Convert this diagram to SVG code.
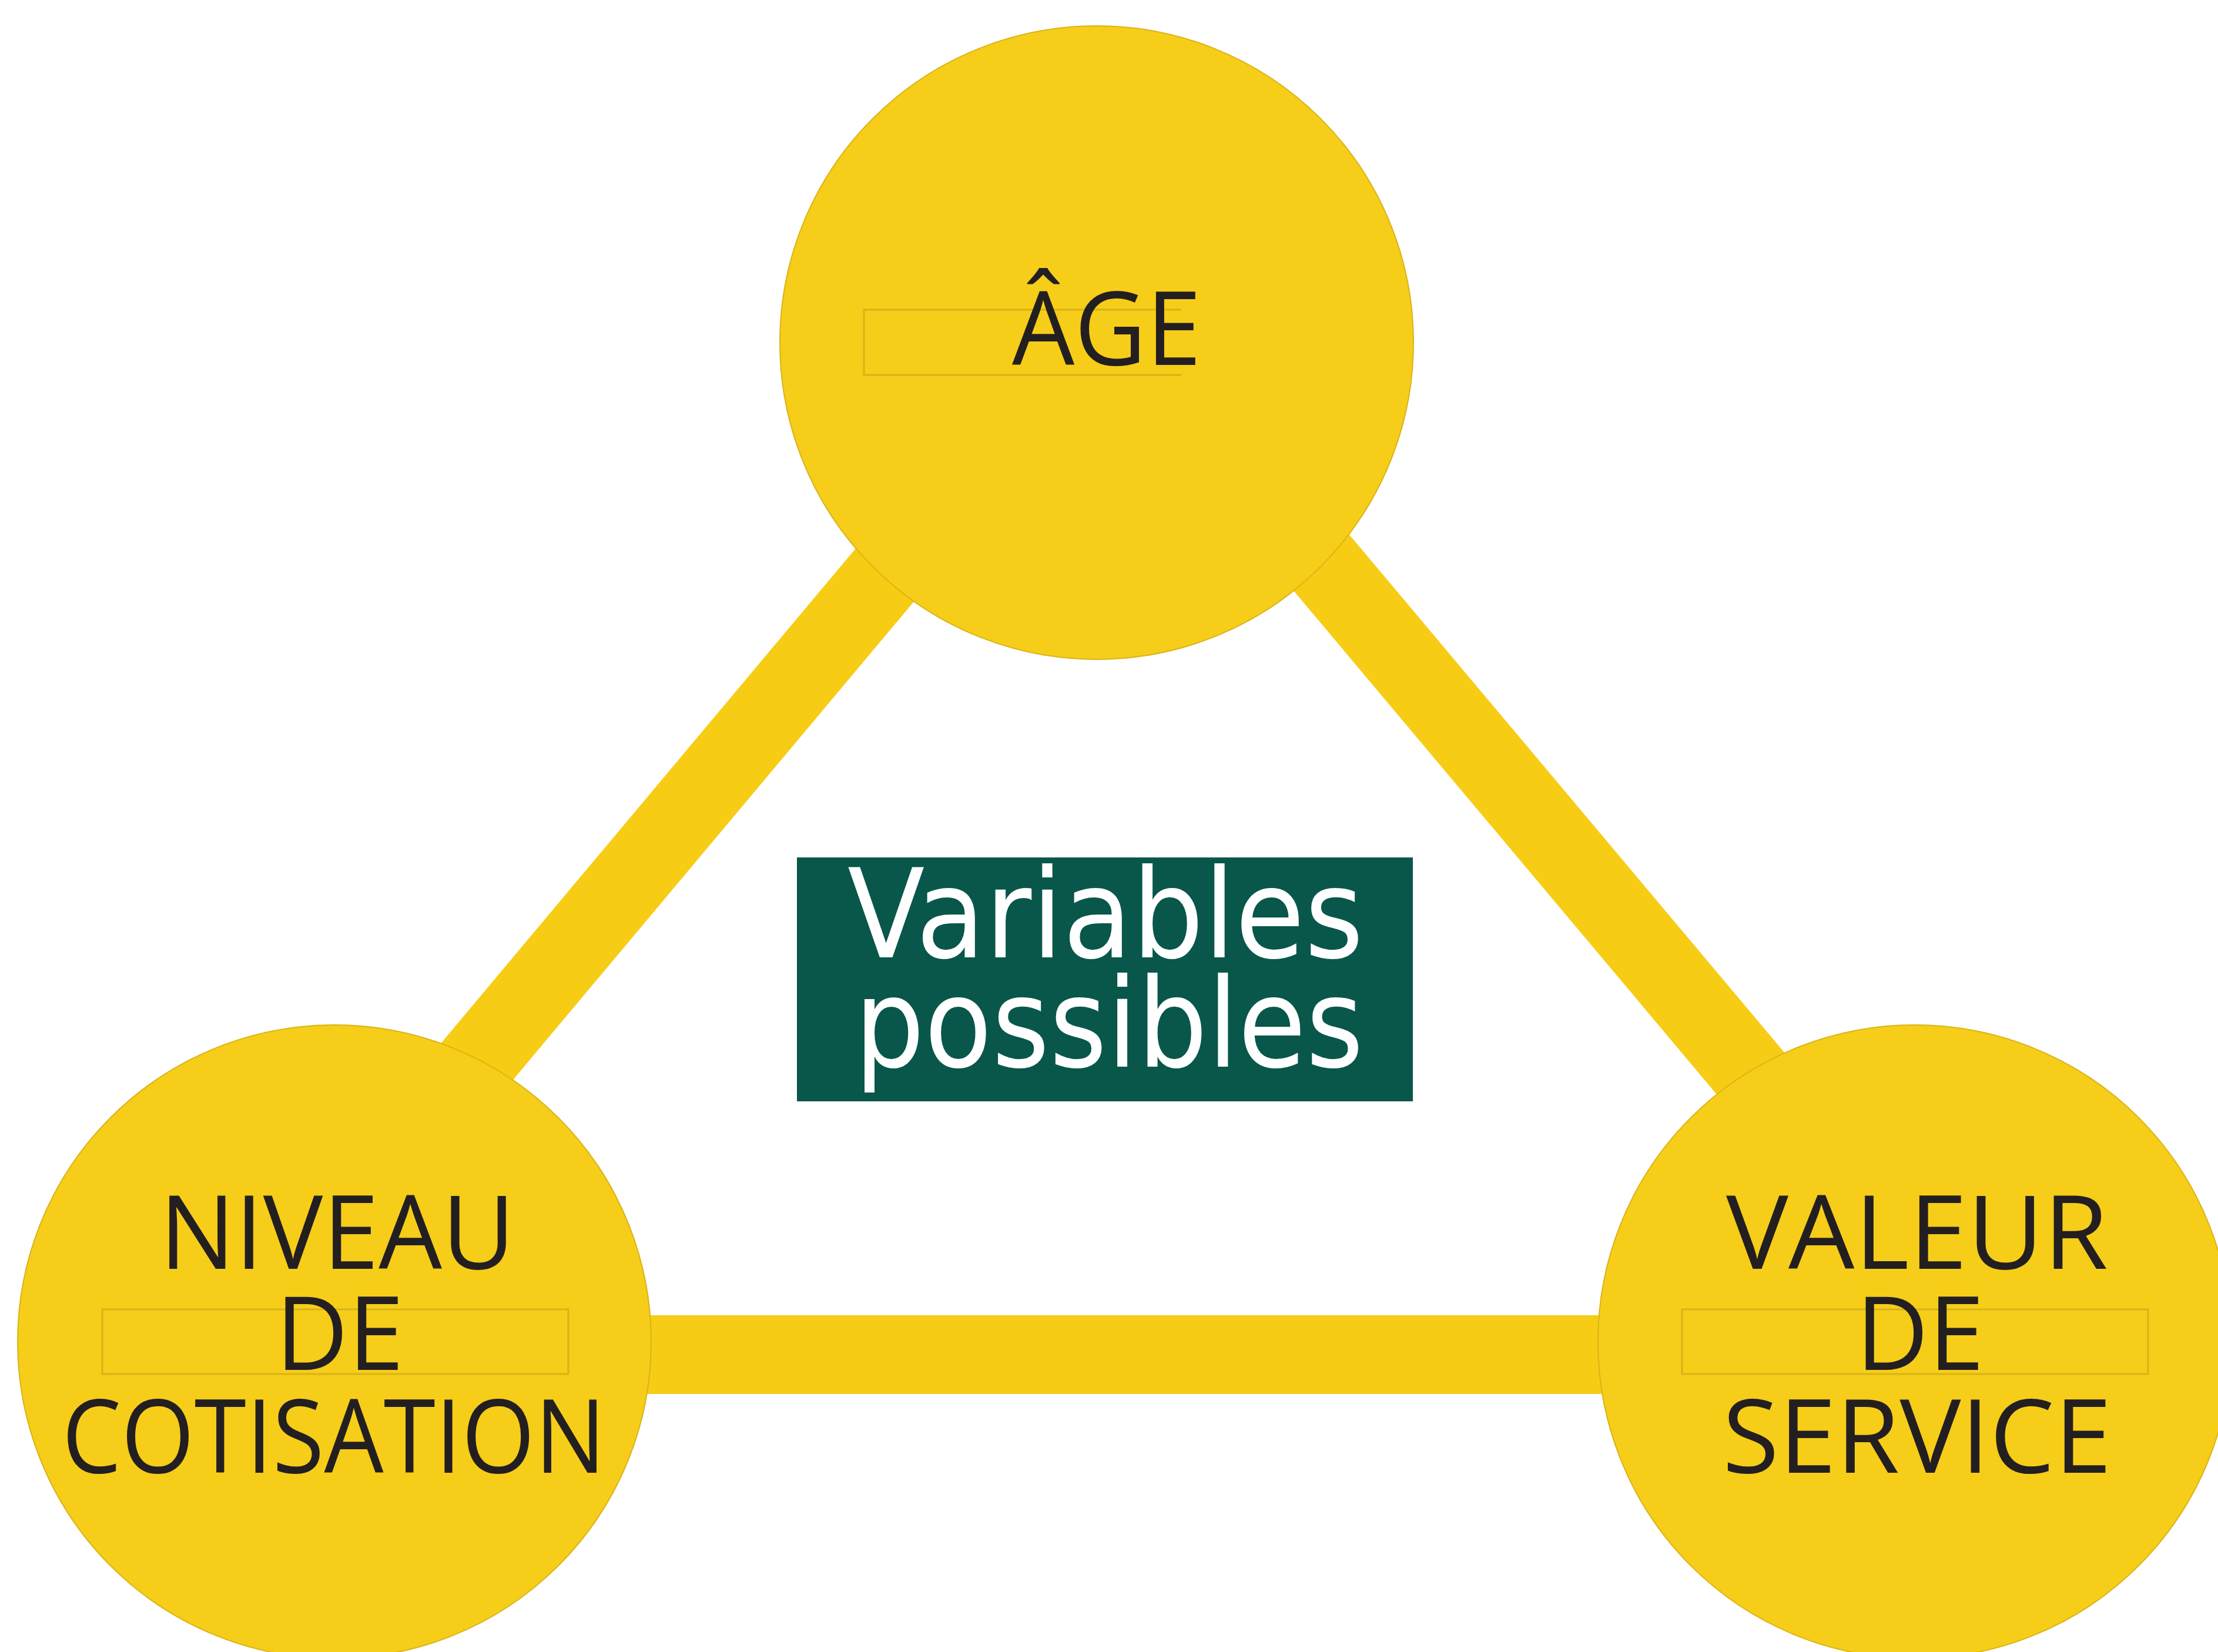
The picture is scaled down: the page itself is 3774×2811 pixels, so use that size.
<svg xmlns="http://www.w3.org/2000/svg" width="3774" height="2811" viewBox="0 0 3774 2811">
  <style>
    .bar { stroke: #f7cc15; stroke-width: 134; stroke-linecap: butt; fill: none; }
    .node { fill: #f6cd19; stroke: #d9b417; stroke-width: 2; }
    .lbl { font-family: "Open Sans", "Noto Sans", "Liberation Sans", sans-serif; font-size: 174px; fill: #231f20; text-anchor: middle; }
    .frame { fill: none; stroke: #d6b318; stroke-width: 3; }
    .center { font-family: "DejaVu Sans", "Liberation Sans", sans-serif; font-size: 210px; fill: #ffffff; text-anchor: middle; }
  </style>
  <rect x="0" y="0" width="3774" height="2811" fill="#ffffff"/>
  <g id="connectors">
    <line class="bar" x1="1837" y1="583" x2="412" y2="2283"/>
    <line class="bar" x1="1934" y1="583" x2="3362" y2="2283"/>
    <line class="bar" x1="560" y1="2305" x2="3260" y2="2305"/>
  </g>
  <g id="node-age">
    <circle class="node" cx="1866" cy="583" r="539"/>
    <path class="frame" d="M2010,527 H1470 V638 H2010"/>
    <text class="lbl" x="1883" y="621" textLength="322" lengthAdjust="spacingAndGlyphs">ÂGE</text>
  </g>
  <g id="node-cotisation">
    <circle class="node" cx="569" cy="2283" r="539"/>
    <rect class="frame" x="174" y="2228" width="793" height="110"/>
    <text class="lbl" x="574" y="2159" textLength="605" lengthAdjust="spacingAndGlyphs">NIVEAU</text>
    <text class="lbl" x="578" y="2331" textLength="218" lengthAdjust="spacingAndGlyphs">DE</text>
    <text class="lbl" x="568" y="2506" textLength="925" lengthAdjust="spacingAndGlyphs">COTISATION</text>
  </g>
  <g id="node-service">
    <circle class="node" cx="3258" cy="2283" r="539"/>
    <rect class="frame" x="2862" y="2228" width="793" height="110"/>
    <text class="lbl" x="3262" y="2159" textLength="650" lengthAdjust="spacingAndGlyphs">VALEUR</text>
    <text class="lbl" x="3267" y="2331" textLength="218" lengthAdjust="spacingAndGlyphs">DE</text>
    <text class="lbl" x="3262" y="2506" textLength="662" lengthAdjust="spacingAndGlyphs">SERVICE</text>
  </g>
  <g id="node-variables">
    <rect x="1356" y="1459" width="1048" height="415" fill="#08574a"/>
    <text class="center" x="1881" y="1629" textLength="878" lengthAdjust="spacingAndGlyphs">Variables</text>
    <text class="center" x="1887" y="1815" textLength="866" lengthAdjust="spacingAndGlyphs">possibles</text>
  </g>
</svg>
